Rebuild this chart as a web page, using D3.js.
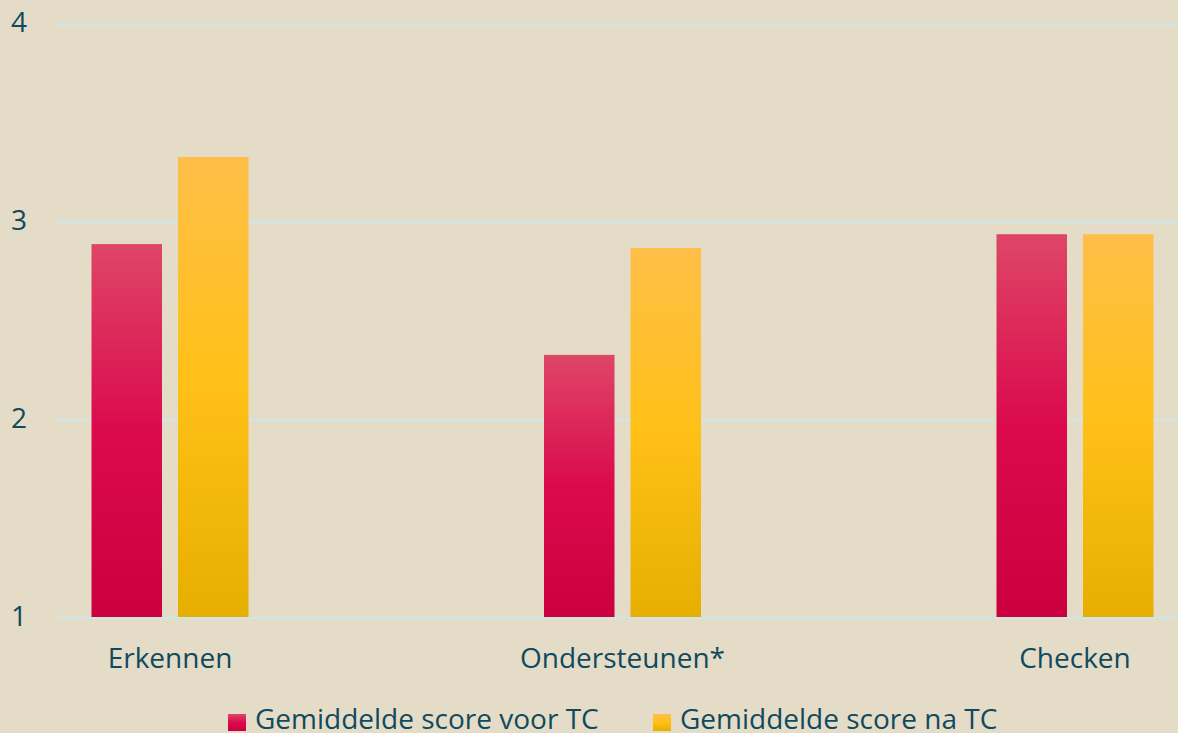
<!DOCTYPE html>
<html>
<head>
<meta charset="utf-8">
<script src="https://cdn.jsdelivr.net/npm/d3@7"></script>
<style>
  body { margin: 0; background: #E5DCC8; }
  svg { display: block; font-family: "Open Sans", sans-serif; }
</style>
</head>
<body>
<div id="chart"></div>
<script>
// Data
const categories = ["Erkennen", "Ondersteunen*", "Checken"];
const seriesNames = ["Gemiddelde score voor TC", "Gemiddelde score na TC"];
const voorTC = [2.89, 2.33, 2.94];
const naTC = [3.33, 2.87, 2.94];
const yTicks = [1, 2, 3, 4];

// Dimensions
const width = 1178,
    height = 733;

const rows = categories.map((c, i) => ({ category: c, values: [voorTC[i], naTC[i]] }));

const svg = d3.select("#chart")
    .append("svg")
    .attr("width", width)
    .attr("height", height);

svg.append("rect")
    .attr("width", width)
    .attr("height", height)
    .attr("fill", "#E5DCC8");

// Gradients
const gradients = [
    ["#DE4667", "#DB0A4D", "#CC003E"],
    ["#FFBF48", "#FFC017", "#E6AF00"]
];
const defs = svg.append("defs");
gradients.forEach((stops, i) => {
    const g = defs.append("linearGradient")
        .attr("id", "grad" + i)
        .attr("x1", 0).attr("y1", 0)
        .attr("x2", 0).attr("y2", 1);
    g.append("stop").attr("offset", "0%").attr("stop-color", stops[0]);
    g.append("stop").attr("offset", "50%").attr("stop-color", stops[1]);
    g.append("stop").attr("offset", "100%").attr("stop-color", stops[2]);
});

// Scales
const x0 = d3.scalePoint()
    .domain(categories)
    .range([170, 1075]);

const x1 = d3.scaleBand()
    .domain([0, 1])
    .range([-78.5, 78.5])
    .paddingInner(0.185);

const y = d3.scaleLinear()
    .domain([1, 4])
    .range([618, 24.5]);

// Gridlines
svg.append("g")
    .selectAll("line")
    .data(yTicks)
    .join("line")
    .attr("x1", 57)
    .attr("x2", width)
    .attr("y1", d => y(d))
    .attr("y2", d => y(d))
    .attr("stroke", "#CDE6EC")
    .attr("stroke-width", 2);

// Y tick labels
svg.append("g")
    .selectAll("text")
    .data(yTicks)
    .join("text")
    .attr("x", 27)
    .attr("y", d => y(d))
    .attr("dy", "0.27em")
    .attr("text-anchor", "end")
    .attr("fill", "#0F4A5E")
    .style("font-size", "28px")
    .text(d => d);

// Bars
svg.append("g")
    .selectAll("g")
    .data(rows)
    .join("g")
    .attr("transform", d => `translate(${x0(d.category)},0)`)
    .selectAll("rect")
    .data(d => d.values)
    .join("rect")
    .attr("x", (d, i) => x1(i))
    .attr("width", x1.bandwidth())
    .attr("y", d => y(d))
    .attr("height", d => y(1) - y(d) - 1)
    .attr("fill", (d, i) => `url(#grad${i})`);

// Category labels
svg.append("g")
    .selectAll("text")
    .data(categories)
    .join("text")
    .attr("x", d => x0(d))
    .attr("y", 668)
    .attr("text-anchor", "middle")
    .attr("fill", "#0F4A5E")
    .style("font-size", "28px")
    .text(d => d);

// Legend
const legendX = [228, 653];
const legend = svg.append("g")
    .selectAll("g")
    .data(seriesNames)
    .join("g")
    .attr("transform", (d, i) => `translate(${legendX[i]},0)`);

legend.append("rect")
    .attr("y", 714)
    .attr("width", 18)
    .attr("height", 17)
    .attr("fill", (d, i) => `url(#grad${i})`);

legend.append("text")
    .attr("x", 27)
    .attr("y", 729)
    .attr("fill", "#0F4A5E")
    .style("font-size", "28px")
    .text(d => d);
</script>
</body>
</html>
